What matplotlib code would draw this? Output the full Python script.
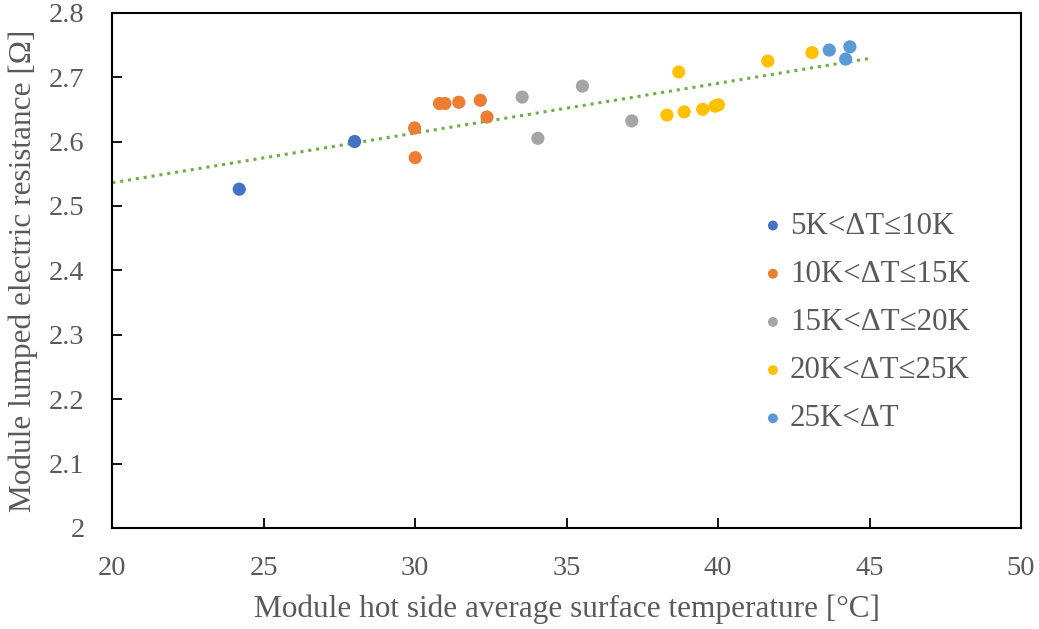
import numpy as np
import matplotlib
matplotlib.use("Agg")
import matplotlib.pyplot as plt

# Data, grouped by temperature difference range
labels = ["5K<ΔT≤10K", "10K<ΔT≤15K", "15K<ΔT≤20K", "20K<ΔT≤25K", "25K<ΔT"]
colors = ["#4472C4", "#ED7D31", "#A5A5A5", "#FFC000", "#5B9BD5"]

t_5_10 = [24.19, 28.00]
r_5_10 = [2.526, 2.600]

t_10_15 = [29.98, 30.00, 30.80, 30.98, 31.44, 32.15, 32.37]
r_10_15 = [2.621, 2.575, 2.659, 2.659, 2.661, 2.664, 2.638]

t_15_20 = [33.53, 34.05, 35.52, 37.15]
r_15_20 = [2.669, 2.605, 2.686, 2.632]

t_20_25 = [38.70, 38.31, 38.88, 39.49, 39.90, 40.01, 41.64, 43.10]
r_20_25 = [2.708, 2.641, 2.646, 2.650, 2.655, 2.657, 2.725, 2.738]

t_25 = [43.67, 44.35, 44.21]
r_25 = [2.742, 2.747, 2.728]

# Trendline end points (linear, dotted)
trend_t = [20, 45]
trend_r = [2.536, 2.729]

xs = [t_5_10, t_10_15, t_15_20, t_20_25, t_25]
ys = [r_5_10, r_10_15, r_15_20, r_20_25, r_25]

plt.rcParams['font.family'] = ['Liberation Serif', 'DejaVu Serif']
text_color = "#595959"

fig = plt.figure(figsize=(10.39, 6.29), dpi=100)
ax = fig.add_axes([0.1081, 0.1606, 0.8746, 0.8192])

ax.plot(trend_t, trend_r, color="#70AD47", linestyle=(0, (1, 1.6)),
        linewidth=2.2, zorder=1)

for x, y, c, lab in zip(xs, ys, colors, labels):
    ax.scatter(x, y, s=90, color=c, edgecolors="none", label=lab, zorder=3)

ax.set_xlim(20, 50)
ax.set_ylim(2.0, 2.8)
ax.set_xticks(np.arange(20, 51, 5))
ax.set_yticks(np.arange(2.0, 2.81, 0.1))
ax.set_yticklabels(["2", "2.1", "2.2", "2.3", "2.4", "2.5", "2.6", "2.7", "2.8"])

ax.tick_params(direction="in", length=7, width=1.3, labelsize=20.5,
               labelcolor=text_color, top=False, right=False)
ax.tick_params(axis="y", pad=20)
ax.tick_params(axis="x", pad=20)
for sp in ax.spines.values():
    sp.set_linewidth(1.5)
    sp.set_color("black")

ax.set_xlabel("Module hot side average surface temperature [°C]",
              fontsize=22.5, color=text_color, labelpad=10)
ax.set_ylabel("Module lumped electric resistance [Ω]",
              fontsize=22.5, color=text_color, labelpad=8)

leg = ax.legend(loc="upper left", bbox_to_anchor=(0.698, 0.638), frameon=False,
                fontsize=22.3, markerscale=0.75, handletextpad=0.1,
                labelspacing=0.62, handlelength=0.9, borderaxespad=0)
for t in leg.get_texts():
    t.set_color(text_color)

fig.savefig("out.png", dpi=100)
